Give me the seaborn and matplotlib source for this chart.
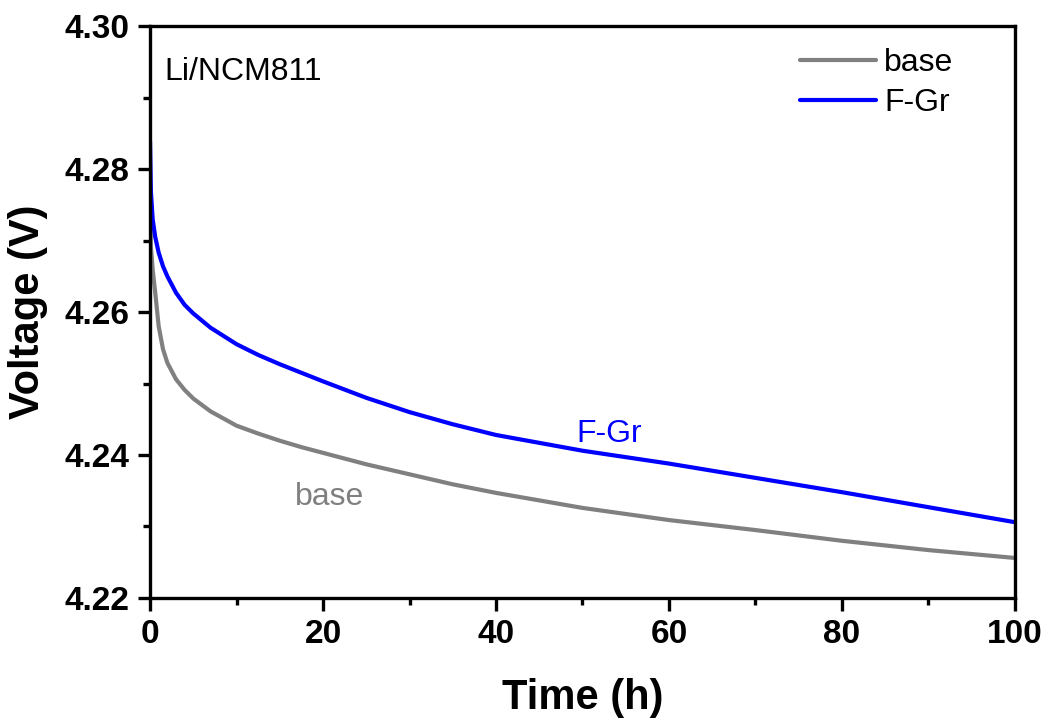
import pandas as pd
import seaborn as sns
import matplotlib

matplotlib.use("Agg")
import matplotlib.pyplot as plt
from matplotlib.ticker import MultipleLocator


# time (h) and voltage (V)
time_h = [0, 0.1, 0.3, 0.6, 1, 1.5, 2, 3, 4, 5, 7, 10, 12.5, 15, 17.5, 20,
          25, 30, 35, 40, 50, 60, 70, 80, 90, 100]
v_base = [4.2755, 4.2692, 4.2660, 4.2627, 4.2580, 4.2548, 4.2529, 4.2506,
          4.2491, 4.2479, 4.2461, 4.2441, 4.2430, 4.2420, 4.2411, 4.2403,
          4.2387, 4.2373, 4.2359, 4.2347, 4.2326, 4.2309, 4.2295, 4.2280,
          4.2267, 4.2256]
v_fgr = [4.2839, 4.2769, 4.2730, 4.2705, 4.2683, 4.2664, 4.2650, 4.2627,
         4.2610, 4.2598, 4.2578, 4.2555, 4.2540, 4.2527, 4.2515, 4.2503,
         4.2480, 4.2460, 4.2443, 4.2428, 4.2406, 4.2388, 4.2368, 4.2348,
         4.2327, 4.2306]

series = ["base", "F-Gr"]
colors = {"base": "#808080", "F-Gr": "#0000ff"}

x_ticks = [0, 20, 40, 60, 80, 100]
y_ticks = [4.22, 4.24, 4.26, 4.28, 4.30]


def main():
    sns.set_style("ticks")
    plt.rcParams["font.family"] = ["Liberation Sans", "DejaVu Sans"]
    plt.rcParams["text.color"] = "black"
    plt.rcParams["axes.labelcolor"] = "black"
    plt.rcParams["xtick.color"] = "black"
    plt.rcParams["ytick.color"] = "black"

    df = pd.concat([
        pd.DataFrame({"time": time_h, "voltage": v_base, "cell": "base"}),
        pd.DataFrame({"time": time_h, "voltage": v_fgr, "cell": "F-Gr"}),
    ])

    fig = plt.figure(figsize=(10.47, 7.19), dpi=100)
    ax = fig.add_axes([0.1433, 0.1683, 0.8261, 0.7955])

    sns.lineplot(data=df, x="time", y="voltage", hue="cell", hue_order=series,
                 palette=colors, linewidth=3, ax=ax)

    ax.set_xlim(0, 100)
    ax.set_ylim(4.22, 4.30)
    ax.set_xticks(x_ticks)
    ax.set_yticks(y_ticks)
    ax.set_yticklabels([f"{v:.2f}" for v in y_ticks])
    ax.xaxis.set_minor_locator(MultipleLocator(10))
    ax.yaxis.set_minor_locator(MultipleLocator(0.01))

    for sp in ax.spines.values():
        sp.set_linewidth(2.4)
        sp.set_color("black")
    ax.tick_params(which="major", direction="out", length=9, width=2.4,
                   labelsize=24, pad=6, colors="black")
    ax.tick_params(which="minor", direction="out", length=5, width=2.4,
                   colors="black")
    for lab in ax.get_xticklabels() + ax.get_yticklabels():
        lab.set_fontweight("bold")

    ax.set_xlabel("Time (h)", fontsize=30, fontweight="bold", labelpad=20,
                  color="black")
    ax.set_ylabel("Voltage (V)", fontsize=30, fontweight="bold", labelpad=12,
                  color="black")

    ax.text(0.017, 0.92, "Li/NCM811", transform=ax.transAxes, fontsize=23,
            va="center", ha="left", color="black")
    ax.text(16.8, 4.2330, "base", color=colors["base"], fontsize=23)
    ax.text(49.3, 4.2418, "F-Gr", color=colors["F-Gr"], fontsize=23)

    leg = ax.legend(loc="upper right", bbox_to_anchor=(0.955, 1.0),
                    frameon=False, fontsize=23, handlelength=2.4,
                    handletextpad=0.25, labelspacing=0.3,
                    borderaxespad=0.3, title=None)
    for line in leg.get_lines():
        line.set_linewidth(3)
    for t in leg.get_texts():
        t.set_color("black")

    fig.savefig("out.png", dpi=100)
    plt.close(fig)


if __name__ == "__main__":
    main()
